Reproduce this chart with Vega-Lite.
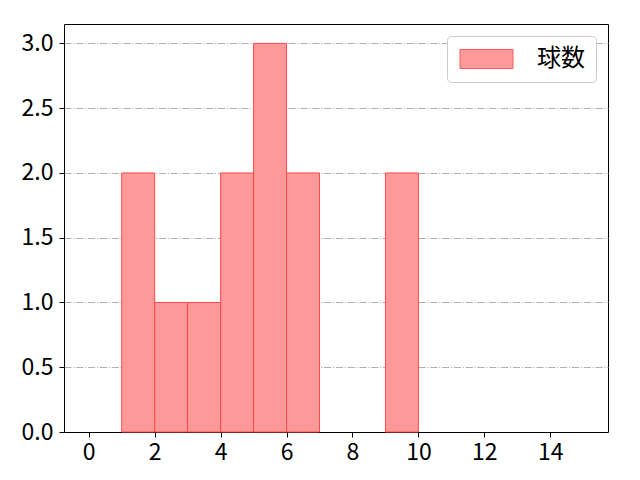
{
  "$schema": "https://vega.github.io/schema/vega-lite/v6.json",
  "width": 544,
  "height": 408,
  "autosize": {"type": "none"},
  "padding": {"left": 64, "top": 24, "right": 32, "bottom": 48},
  "background": "white",
  "config": {
    "font": "Noto Sans CJK JP",
    "view": {"stroke": "black", "strokeWidth": 1},
    "axis": {
      "labelFont": "Noto Sans CJK JP",
      "labelFontSize": 23,
      "labelColor": "black",
      "tickColor": "black",
      "tickSize": 5,
      "domain": false,
      "title": null
    }
  },
  "data": {
    "values": [
      {"bin_start": 1, "bin_end": 2, "count": 2, "series": "球数"},
      {"bin_start": 2, "bin_end": 3, "count": 1, "series": "球数"},
      {"bin_start": 3, "bin_end": 4, "count": 1, "series": "球数"},
      {"bin_start": 4, "bin_end": 5, "count": 2, "series": "球数"},
      {"bin_start": 5, "bin_end": 6, "count": 3, "series": "球数"},
      {"bin_start": 6, "bin_end": 7, "count": 2, "series": "球数"},
      {"bin_start": 9, "bin_end": 10, "count": 2, "series": "球数"}
    ]
  },
  "mark": {"type": "bar", "stroke": "#ff4a4a", "strokeWidth": 1, "fillOpacity": 1},
  "encoding": {
    "x": {
      "field": "bin_start",
      "type": "quantitative",
      "scale": {"domain": [-0.75, 15.75], "nice": false, "zero": false},
      "axis": {"values": [0, 2, 4, 6, 8, 10, 12, 14], "grid": false, "labelPadding": 4}
    },
    "x2": {"field": "bin_end"},
    "y": {
      "field": "count",
      "type": "quantitative",
      "scale": {"domain": [0, 3.15], "nice": false},
      "axis": {
        "values": [0, 0.5, 1, 1.5, 2, 2.5, 3],
        "format": ".1f",
        "grid": true,
        "gridColor": "#b0b0b0",
        "gridDash": [7.1, 1.8, 1.1, 1.8],
        "gridWidth": 1.1,
        "gridOpacity": {"expr": "datum.value === 0 ? 0 : 1"},
        "labelPadding": 6
      }
    },
    "y2": {"datum": 0},
    "fill": {
      "field": "series",
      "type": "nominal",
      "scale": {"range": ["#ff9999"]},
      "legend": {
        "title": null,
        "orient": "top-right",
        "offset": 12,
        "symbolType": "M-1,-0.95L4.3,-0.95L4.3,0.95L-1,0.95Z",
        "symbolSize": 400,
        "symbolStrokeColor": "#ff5a5a",
        "symbolStrokeWidth": 1,
        "symbolFillColor": "#ff9999",
        "labelFont": "Noto Sans CJK JP",
        "labelFontSize": 24,
        "labelColor": "black",
        "labelOffset": 55,
        "fillColor": "white",
        "strokeColor": "#cccccc",
        "cornerRadius": 4,
        "padding": 11
      }
    }
  }
}
